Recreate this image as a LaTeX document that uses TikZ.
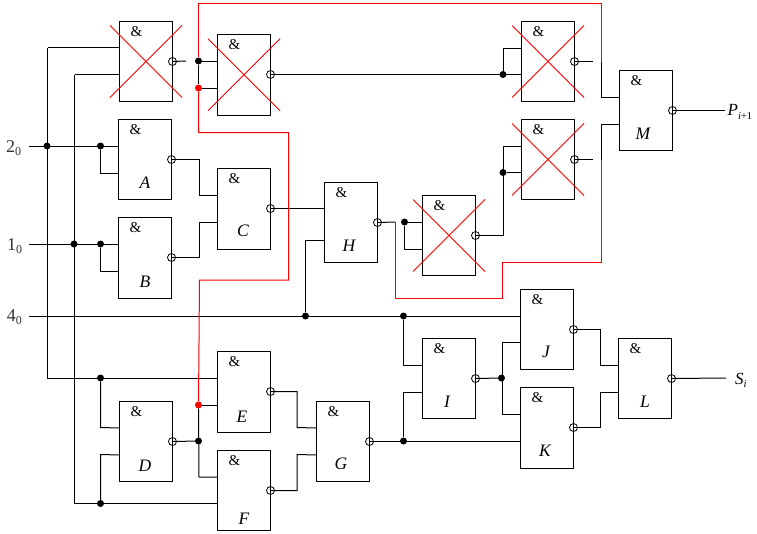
\documentclass[tikz,border=0pt]{standalone}
\usepackage{fontspec}
\setmainfont{Liberation Serif}
\newcommand{\gate}[6][80]{
  \node[gate,minimum height=#1pt] (#2) at (#3,#4) {};
  \node[amp] (#2amp) at (#3+17,#4+10) {\&};
  \node[letter,shift={(#6)}] (#2name) at (#3+26.5,#4) {#5};
  \node[bubble] (#2o) at (#3+53,#4+40) {};
  \coordinate (#2a) at (#3,#4+26.5);
  \coordinate (#2b) at (#3,#4+53.5);
}
\newcommand{\killgate}[1]{
  \draw[cross] (#1.center)+(-36,-36) -- +(36,36);
  \draw[cross] (#1.center)+(-36,36) -- +(36,-36);
}
\begin{document}
\begin{tikzpicture}[x=1pt,y=-1pt]
\tikzstyle{gate}=[draw,anchor=north west,minimum width=53pt,inner sep=0pt,outer sep=0pt,line width=1pt]
\tikzstyle{amp}=[inner sep=0pt,font=\fontsize{15}{15}\selectfont]
\tikzstyle{letter}=[inner sep=0pt,font=\fontsize{17.5}{17.5}\selectfont\itshape]
\tikzstyle{bubble}=[draw,circle,minimum size=8pt,inner sep=0pt,line width=.8pt]
\tikzstyle{dot}=[fill,circle,minimum size=7pt,inner sep=0pt]
\tikzstyle{reddot}=[dot,fill=red]
\tikzstyle{wire}=[line width=1pt]
\tikzstyle{redwire}=[wire,red]
\tikzstyle{cross}=[red,line width=.9pt]
\tikzstyle{pin}=[inner sep=0pt,anchor=base west,font=\fontsize{18}{18}\selectfont,text=black!80]
\tikzstyle{outlabel}=[inner sep=0pt,anchor=base west,font=\fontsize{17}{17}\selectfont\itshape]
\useasboundingbox (0,0) rectangle (757,533);
% gates
\gate{Xa}{119.5}{21.5}{}{0,64}
\gate[80.5]{Xb}{217.5}{34.5}{}{0,64}
\gate{A}{118.5}{119.5}{A}{0,63.5}
\gate[80.5]{B}{118.5}{217.5}{B}{0,64.5}
\gate[80.5]{C}{217.5}{168.5}{C}{-1,62.5}
\gate{D}{119.5}{401.5}{D}{-1,64.5}
\gate[80.5]{E}{217.5}{351.5}{E}{-2,65.5}
\gate{F}{217.5}{450.5}{F}{0,68.5}
\gate{G}{316.5}{401.5}{G}{-2,62.5}
\gate{H}{324.5}{182.5}{H}{-2,63.5}
\gate{Xc}{422.5}{195.5}{}{0,64}
\gate{Xd}{521.5}{21.5}{}{0,64}
\gate{Xe}{521.5}{119.5}{}{0,64}
\gate{M}{619.5}{70.5}{M}{-3,63.5}
\gate{I}{422.5}{338.5}{I}{-2,63.5}
\gate{J}{520.5}{289.5}{J}{-1,62.5}
\gate[80.5]{K}{520.5}{387.5}{K}{-2,63.5}
\gate{L}{618.5}{338.5}{L}{0,63.5}
\foreach \g in {Xa,Xb,Xc,Xd,Xe} {\killgate{\g}}
% inputs and outputs
\node[pin] (twoin) at (5.8,152) {2\raisebox{-3pt}{\fontsize{12}{12}\selectfont 0}};
\node[pin] (onein) at (7,250) {1\raisebox{-3pt}{\fontsize{12}{12}\selectfont 0}};
\node[pin] (fourin) at (6.7,321) {4\raisebox{-3pt}{\fontsize{12}{12}\selectfont 0}};
\node[outlabel] (pout) at (727.5,115) {P\raisebox{-4pt}{\fontsize{10.5}{10.5}\selectfont i\textup{+1}}};
\node[outlabel] (sout) at (735,384.5) {S\raisebox{-3pt}{\fontsize{11}{11}\selectfont i}};
\coordinate (twostart) at (29,146);
\coordinate (onestart) at (29,244);
\coordinate (fourstart) at (29,316);
\coordinate (pend) at (725,110.5);
\coordinate (send) at (726,378);
% junctions
\node[dot] (jtwo) at (47,146) {};
\node[dot] (jA) at (100.5,146) {};
\node[dot] (jone) at (74,244) {};
\node[dot] (jB) at (100.5,244) {};
\node[dot] (jH) at (305.5,316) {};
\node[dot] (jI) at (403.5,316) {};
\node[dot] (jDa) at (100.5,378) {};
\node[dot] (jDb) at (100.5,503.5) {};
\node[dot] (jD) at (198.5,441) {};
\node[dot] (jG) at (403.5,441) {};
\node[dot] (jIo) at (501.5,378) {};
\node[dot] (jXb) at (198.5,61) {};
\node[reddot] (rXb) at (198.5,88) {};
\node[reddot] (rE) at (198.5,405) {};
\node[dot] (jXc) at (404.5,222) {};
\node[dot] (jXd) at (503,74.5) {};
\node[dot] (jXe) at (503,172.5) {};
% bends
\coordinate (toptwo) at (47.5,47.5);
\coordinate (lowtwo) at (47.5,378);
\coordinate (topone) at (74.5,74.5);
\coordinate (lowone) at (74.5,503.5);
\coordinate (bendAb) at (100.5,173);
\coordinate (bendBb) at (100.5,271);
\coordinate (bendDa) at (100.5,427.5);
\coordinate (bendDb) at (100.5,454.5);
\coordinate (bendCa) at (199.5,195);
\coordinate (bendCb) at (199.5,222);
\coordinate (bendFa) at (199,477);
\coordinate (bendGa) at (297,427.5);
\coordinate (bendGb) at (297,454.5);
\coordinate (bendHb) at (305.5,240);
\coordinate (bendIa) at (403.5,365);
\coordinate (bendIb) at (403.5,392);
\coordinate (bendXcb) at (404.5,249);
\coordinate (bendXe) at (503,146);
\coordinate (bendXd) at (503,48);
\coordinate (bendJb) at (502,342.5);
\coordinate (bendKa) at (502,414);
\coordinate (bendLa) at (600.5,365);
\coordinate (bendLb) at (600.5,392);
\coordinate (xastub) at (186,61);
\coordinate (xdstub) at (592.5,61.5);
\coordinate (xestub) at (592.5,159.5);
\coordinate (hstub) at (395.5,222);
\coordinate (mup) at (601.5,61.5);
\coordinate (mdown) at (601.5,159.5);
\coordinate (redtop) at (198.5,3.5);
\coordinate (redtopr) at (601.5,3.5);
\coordinate (reda) at (288.5,132.5);
\coordinate (redb) at (199.5,280);
\coordinate (redc) at (502.5,298);
\coordinate (redd) at (601.5,262);
% wires
\draw[wire] (twostart) -- (A.west |- twostart);
\draw[wire] (toptwo) -- (Xa.west |- toptwo);
\draw[wire] (toptwo) -- (lowtwo) -- (E.west |- lowtwo);
\draw[wire] (topone) -- (Xa.west |- topone);
\draw[wire] (topone) -- (lowone) -- (F.west |- lowone);
\draw[wire] (onestart) -- (B.west |- onestart);
\draw[wire] (fourstart) -- (J.west |- fourstart);
\draw[wire] (jA) |- (bendAb) -- (Ab);
\draw[wire] (jB) |- (bendBb) -- (Bb);
\draw[wire] (jDa) -- (bendDa) -- (Da);
\draw[wire] (jDb) -- (bendDb) -- (Db);
\draw[wire] (Ao.center) -| (bendCa) -- (Ca);
\draw[wire] (Bo.center) -| (bendCb) -- (Cb);
\draw[wire] (Co.center) -- (H.west |- Co);
\draw[wire] (jH) -- (bendHb) -- (H.west |- bendHb);
\draw[wire] (Do.center) -- (jD);
\draw[wire] (rE) -- (Eb);
\draw[wire] (rE) -- (bendFa) -- (F.west |- bendFa);
\draw[wire] (Eo.center) -| (bendGa) -- (Ga);
\draw[wire] (Fo.center) -| (bendGb) -- (Gb);
\draw[wire] (Go.center) -- (K.west |- Go);
\draw[wire] (jI) -- (bendIa) -- (Ia);
\draw[wire] (jG) -- (bendIb) -- (Ib);
\draw[wire] (Io.center) -- (jIo);
\draw[wire] (bendJb) -- (bendKa);
\draw[wire] (bendJb) -- (J.west |- bendJb);
\draw[wire] (bendKa) -- (K.west |- bendKa);
\draw[wire] (Jo.center) -| (bendLa) -- (La);
\draw[wire] (Ko.center) -| (bendLb) -- (Lb);
\draw[wire] (Lo.center) -- (send);
\draw[wire] (Xao.center) -- (xastub);
\draw[wire] (jXb) -- (Xb.west |- jXb);
\draw[wire] (jXb) -- (rXb);
\draw[wire] (rXb) -- (Xb.west |- rXb);
\draw[wire] (Xbo.center) -- (Xd.west |- Xbo);
\draw[wire] (jXd) -- (bendXd) -- (Xd.west |- bendXd);
\draw[wire] (Xco.center) -| (bendXe) -- (Xe.west |- bendXe);
\draw[wire] (jXe) -- (Xe.west |- jXe);
\draw[wire] (Ho.center) -- (hstub);
\draw[wire] (jXc) -- (Xc.west |- jXc);
\draw[wire] (jXc) -- (bendXcb) -- (Xc.west |- bendXcb);
\draw[wire] (Xdo.center) -- (xdstub);
\draw[wire] (Xeo.center) -- (xestub);
\draw[wire] (mup) |- (M.west |- Ma);
\draw[wire] (mdown) |- (M.west |- Mb);
\draw[wire] (Mo.center) -- (pend);
% red links
\draw[redwire] (jXb) -- (redtop) -- (redtopr) -- (mup);
\draw[redwire] (rXb) |- (reda) |- (redb) -- (rE);
\draw[redwire] (hstub) |- (redc) |- (redd) -- (mdown);
\end{tikzpicture}
\end{document}
